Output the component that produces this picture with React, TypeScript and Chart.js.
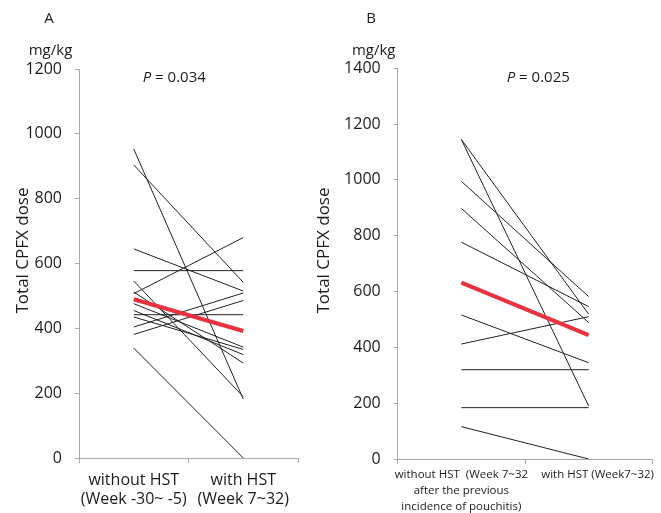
import React, { useEffect, useRef } from "react";
import { Chart, registerables } from "chart.js";

Chart.register(...registerables);

const FONT = "'Open Sans', 'DejaVu Sans', sans-serif";
const TEXT = "#1c1c1c";
const AXIS = "#a8a8a8";
const LINE = "#222222";
const RED = "rgb(234, 50, 62)";

// ---------- Panel A ----------
const categoriesA = [["without HST", "(Week -30~ -5)"], ["with HST", "(Week 7~32)"]];
const withoutHstA = [953, 904, 645, 578, 546, 512, 507, 476, 455, 442, 435, 404, 381, 339];
const withHstA = [182, 542, 515, 578, 189, 293, 680, 342, 319, 442, 335, 509, 486, 0];
const medianA = [490, 392];
const yTicksA = [0, 200, 400, 600, 800, 1000, 1200];
const pValueA = "0.034";

// ---------- Panel B ----------
const categoriesB = [
  ["without HST  (Week 7~32", "after the previous", "incidence of pouchitis)"],
  ["      with HST (Week7~32)"],
];
const withoutHstB = [1145, 1145, 995, 898, 777, 516, 412, 320, 184, 116];
const withHstB = [190, 519, 582, 489, 546, 345, 510, 320, 184, 0];
const medianB = [632, 444];
const yTicksB = [0, 200, 400, 600, 800, 1000, 1200, 1400];
const pValueB = "0.025";

const yTitle = "Total CPFX dose";
const unitLabel = "mg/kg";

type Cfg = {
  left: number;
  width: number;
  height: number;
  yWidth: number;
  xHeight: number;
  padTop: number;
  padRight: number;
  xFont: number;
  xLineHeight: number;
  xPadding: number;
  letter: string;
  letterX: number;
  letterY: number;
  unitX: number;
  unitY: number;
  pX: number;
  pY: number;
  titleX: number;
  titleY: number;
};

type PanelProps = {
  cfg: Cfg;
  labels: string[][];
  before: number[];
  after: number[];
  median: number[];
  yTicks: number[];
  pValue: string;
};

function Panel({ cfg, labels, before, after, median, yTicks, pValue }: PanelProps) {
  const ref = useRef<HTMLCanvasElement>(null);

  useEffect(() => {
    if (!ref.current) return;
    const datasets: any[] = [
      {
        data: median,
        borderColor: RED,
        borderWidth: 4.2,
        pointRadius: 0,
        fill: false,
        tension: 0,
      },
      ...before.map((b, i) => ({
        data: [b, after[i]],
        borderColor: LINE,
        borderWidth: 1,
        pointRadius: 0,
        fill: false,
        tension: 0,
      })),
    ];

    const textPlugin = {
      id: "panelText",
      afterDraw(chart: any) {
        const ctx = chart.ctx as CanvasRenderingContext2D;
        ctx.save();
        ctx.fillStyle = TEXT;
        // panel letter
        ctx.font = `15px ${FONT}`;
        ctx.textAlign = "center";
        ctx.textBaseline = "middle";
        ctx.fillText(cfg.letter, cfg.letterX, cfg.letterY);
        // unit
        ctx.font = `15px ${FONT}`;
        ctx.textAlign = "center";
        ctx.textBaseline = "alphabetic";
        ctx.fillText(unitLabel, cfg.unitX, cfg.unitY);
        // p value
        ctx.textAlign = "left";
        ctx.font = `italic 15px ${FONT}`;
        ctx.fillText("P", cfg.pX, cfg.pY);
        const w = ctx.measureText("P").width;
        ctx.font = `15px ${FONT}`;
        ctx.fillText(" = " + pValue, cfg.pX + w, cfg.pY);
        // y title
        ctx.translate(cfg.titleX, cfg.titleY);
        ctx.rotate(-Math.PI / 2);
        ctx.font = `17px ${FONT}`;
        ctx.textAlign = "center";
        ctx.textBaseline = "middle";
        ctx.fillText(yTitle, 0, 0);
        ctx.restore();
      },
    };

    const chart = new Chart(ref.current, {
      type: "line",
      data: { labels, datasets },
      options: {
        animation: false,
        responsive: false,
        events: [],
        layout: { padding: { top: cfg.padTop, right: cfg.padRight, left: 0, bottom: 0 } },
        plugins: { legend: { display: false }, tooltip: { enabled: false } },
        scales: {
          x: {
            type: "category",
            offset: true,
            grid: { offset: true, drawOnChartArea: false, drawTicks: true, tickLength: 5, color: AXIS },
            border: { color: AXIS, width: 1 },
            ticks: {
              maxRotation: 0,
              minRotation: 0,
              autoSkip: false,
              color: TEXT,
              padding: cfg.xPadding,
              font: { family: FONT, size: cfg.xFont, lineHeight: cfg.xLineHeight },
            },
            afterFit: (s: any) => {
              s.height = cfg.xHeight;
            },
          },
          y: {
            min: yTicks[0],
            max: yTicks[yTicks.length - 1],
            grid: { drawOnChartArea: false, drawTicks: true, tickLength: 4, color: AXIS },
            border: { color: AXIS, width: 1 },
            ticks: {
              color: TEXT,
              padding: 13,
              font: { family: FONT, size: 16 },
              callback: (v: any) => String(v),
            },
            afterBuildTicks: (s: any) => {
              s.ticks = yTicks.map((v) => ({ value: v }));
            },
            afterFit: (s: any) => {
              s.width = cfg.yWidth;
            },
          },
        },
      } as any,
      plugins: [textPlugin],
    });
    return () => chart.destroy();
  }, []);

  return (
    <canvas
      ref={ref}
      width={cfg.width}
      height={cfg.height}
      style={{ position: "absolute", left: cfg.left, top: 0, width: cfg.width, height: cfg.height }}
    />
  );
}

const cfgA: Cfg = {
  left: 0,
  width: 300,
  height: 513,
  yWidth: 79,
  xHeight: 55,
  padTop: 69,
  padRight: 2,
  xFont: 16,
  xLineHeight: 1.2,
  xPadding: 8,
  letter: "A",
  letterX: 49,
  letterY: 19,
  unitX: 50.5,
  unitY: 54.5,
  pX: 142.7,
  pY: 81.7,
  titleX: 23,
  titleY: 250.5,
};

const cfgB: Cfg = {
  left: 300,
  width: 361,
  height: 513,
  yWidth: 97.7,
  xHeight: 54,
  padTop: 68.3,
  padRight: 8.7,
  xFont: 11.5,
  xLineHeight: 1.39,
  xPadding: 3,
  letter: "B",
  letterX: 71,
  letterY: 19,
  unitX: 73.7,
  unitY: 54.5,
  pX: 206.7,
  pY: 81.7,
  titleX: 24,
  titleY: 250.5,
};

export default function App() {
  return (
    <div style={{ position: "fixed", left: 0, top: 0, width: 661, height: 513, background: "#fff" }}>
      <Panel
        cfg={cfgA}
        labels={categoriesA}
        before={withoutHstA}
        after={withHstA}
        median={medianA}
        yTicks={yTicksA}
        pValue={pValueA}
      />
      <Panel
        cfg={cfgB}
        labels={categoriesB}
        before={withoutHstB}
        after={withHstB}
        median={medianB}
        yTicks={yTicksB}
        pValue={pValueB}
      />
    </div>
  );
}
